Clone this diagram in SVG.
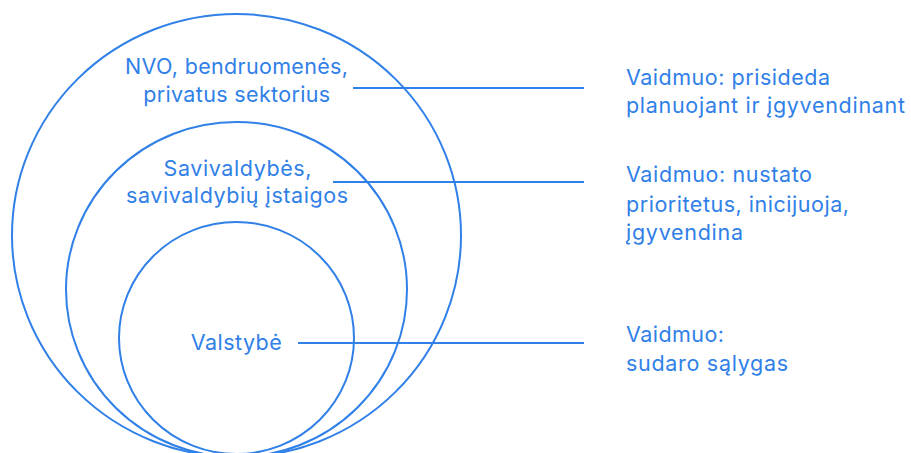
<svg xmlns="http://www.w3.org/2000/svg" width="911" height="453" viewBox="0 0 911 453">
<style>
.ring{fill:none;stroke:#3080E8;stroke-width:2}
.conn{stroke:#3080E8;stroke-width:1.8;fill:none}
text{font-family:Inter,"DejaVu Sans",sans-serif;font-size:21.5px;fill:#3080E8}
.c{text-anchor:middle}
</style>
<rect width="911" height="453" fill="#ffffff"/>
<g id="node-nvo">
<ellipse class="ring" cx="236.5" cy="235.5" rx="224.5" ry="221.5"/>
<text class="c" x="236.5" y="74" textLength="223" lengthAdjust="spacing">NVO, bendruomenės,</text>
<text class="c" x="236.7" y="101.7" textLength="187" lengthAdjust="spacing">privatus sektorius</text>
</g>
<g id="node-savivaldybes">
<ellipse class="ring" cx="236.5" cy="289.5" rx="170.5" ry="167.5"/>
<text class="c" x="237.5" y="176" textLength="148" lengthAdjust="spacing">Savivaldybės,</text>
<text class="c" x="237" y="203.3" textLength="222" lengthAdjust="spacing">savivaldybių įstaigos</text>
</g>
<g id="node-valstybe">
<ellipse class="ring" cx="236.5" cy="338" rx="117.5" ry="116"/>
<text class="c" x="236.3" y="349.7" textLength="91" lengthAdjust="spacing">Valstybė</text>
</g>
<g id="connectors">
<line class="conn" x1="353" y1="88" x2="584" y2="88"/>
<line class="conn" x1="333" y1="182" x2="584" y2="182"/>
<line class="conn" x1="298" y1="343" x2="584" y2="343"/>
</g>
<g id="role-nvo">
<text x="626" y="84.5" textLength="204" lengthAdjust="spacing">Vaidmuo: prisideda</text>
<text x="626" y="113" textLength="279" lengthAdjust="spacing">planuojant ir įgyvendinant</text>
</g>
<g id="role-savivaldybes">
<text x="626" y="182" textLength="186" lengthAdjust="spacing">Vaidmuo: nustato</text>
<text x="626" y="211.5" textLength="223" lengthAdjust="spacing">prioritetus, inicijuoja,</text>
<text x="626" y="239.5" textLength="117" lengthAdjust="spacing">įgyvendina</text>
</g>
<g id="role-valstybe">
<text x="626" y="342" textLength="98" lengthAdjust="spacing">Vaidmuo:</text>
<text x="626" y="371" textLength="162" lengthAdjust="spacing">sudaro sąlygas</text>
</g>
</svg>
